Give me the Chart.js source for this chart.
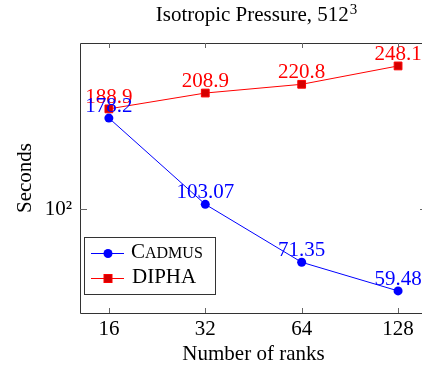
<!DOCTYPE html>
<html><head><meta charset="utf-8">
<script src="https://cdn.jsdelivr.net/npm/chart.js@4"></script>
<style>html,body{margin:0;padding:0;overflow:hidden;background:#fff;width:422px;height:369px}</style>
</head><body>
<canvas id="c" width="440" height="369" style="width:440px;height:369px;display:block"></canvas>
<script>
const ranks = [16, 32, 64, 128];
const rankLabels = ['16', '32', '64', '128'];
const cadmus = [178.2, 103.07, 71.35, 59.48];
const cadmusLabels = ['178.2', '103.07', '71.35', '59.48'];
const dipha = [188.9, 208.9, 220.8, 248.1];
const diphaLabels = ['188.9', '208.9', '220.8', '248.1'];
const yTicks = [100];
const yTickLabels = ['10²'];
const titleMain = 'Isotropic Pressure, 512';
const titleSup = '3';

const FONT = "'Liberation Serif', 'Times New Roman', serif";
const FS = 21;
const BLUE = '#0000ff', RED = '#ff0000', RED_FILL = '#d40000';

const framePlugin = {
  id: 'frame',
  afterDatasetsDraw(chart) {
    const {ctx, chartArea: a, scales: {x, y}} = chart;
    ctx.save();
    // title with superscript, centred over the plot area
    ctx.fillStyle = '#000';
    ctx.textBaseline = 'alphabetic';
    ctx.textAlign = 'left';
    ctx.font = FS + 'px ' + FONT;
    const wMain = ctx.measureText(titleMain).width;
    ctx.font = Math.round(FS * 0.72) + 'px ' + FONT;
    const wSup = ctx.measureText(titleSup).width;
    const cx = (a.left + a.right) / 2 + 3;
    const tx0 = cx - (wMain + wSup + 1) / 2;
    ctx.font = FS + 'px ' + FONT;
    ctx.fillText(titleMain, tx0, 21);
    ctx.font = Math.round(FS * 0.72) + 'px ' + FONT;
    ctx.fillText(titleSup, tx0 + wMain + 1, 14);

    // data labels
    ctx.font = FS + 'px ' + FONT;
    ctx.textAlign = 'center';
    const sets = [[1, diphaLabels, RED], [0, cadmusLabels, BLUE]];
    sets.forEach(([di, labels, col]) => {
      const meta = chart.getDatasetMeta(di);
      ctx.fillStyle = col;
      meta.data.forEach((pt, i) => ctx.fillText(labels[i], pt.x, pt.y - 6));
    });
    // frame
    ctx.strokeStyle = '#333';
    ctx.lineWidth = 1;
    ctx.beginPath();
    ctx.rect(Math.round(a.left) + 0.5, Math.round(a.top) + 0.5, a.right - a.left, a.bottom - a.top);
    ctx.stroke();
    // ticks
    ctx.strokeStyle = '#666';
    ctx.beginPath();
    ranks.forEach(v => {
      const px = Math.round(x.getPixelForValue(v)) + 0.5;
      ctx.moveTo(px, a.bottom); ctx.lineTo(px, a.bottom - 5);
      ctx.moveTo(px, a.top); ctx.lineTo(px, a.top + 5);
    });
    yTicks.forEach(v => {
      const py = Math.round(y.getPixelForValue(v)) + 0.5;
      ctx.moveTo(a.left, py); ctx.lineTo(a.left + 7, py);
      ctx.moveTo(a.right, py); ctx.lineTo(a.right - 7, py);
    });
    ctx.stroke();
    // legend
    const L = 84.5, T = 237.5, W = 131, H = 57;
    ctx.fillStyle = '#fff';
    ctx.fillRect(L, T, W, H);
    ctx.strokeStyle = '#333';
    ctx.strokeRect(L, T, W, H);
    const entries = [
      {y: 253, col: BLUE, fill: BLUE, shape: 'circle'},
      {y: 278, col: RED, fill: RED_FILL, shape: 'rect'}
    ];
    entries.forEach(e => {
      ctx.strokeStyle = e.col; ctx.lineWidth = 1;
      ctx.beginPath(); ctx.moveTo(91, e.y + 0.5); ctx.lineTo(124, e.y + 0.5); ctx.stroke();
      ctx.fillStyle = e.fill;
      if (e.shape === 'circle') {
        ctx.beginPath(); ctx.arc(108, e.y + 0.5, 4.5, 0, Math.PI * 2); ctx.fill();
      } else {
        ctx.fillRect(104, e.y - 3.5, 8, 8);
        ctx.strokeStyle = e.col; ctx.strokeRect(104, e.y - 3.5, 8, 8);
      }
    });
    ctx.fillStyle = '#000';
    ctx.textAlign = 'left';
    // Cadmus in small caps
    let tx = 131;
    ctx.font = FS + 'px ' + FONT;
    ctx.fillText('C', tx, 258);
    tx += ctx.measureText('C').width;
    ctx.font = Math.round(FS * 0.78) + 'px ' + FONT;
    ctx.fillText('ADMUS', tx, 258);
    ctx.font = FS + 'px ' + FONT;
    ctx.fillText('DIPHA', 132, 283);
    ctx.restore();
  }
};

new Chart(document.getElementById('c'), {
  type: 'line',
  data: {
    datasets: [
      {
        label: 'Cadmus',
        data: ranks.map((r, i) => ({x: r, y: cadmus[i]})),
        borderColor: BLUE, backgroundColor: BLUE,
        borderWidth: 1, pointStyle: 'circle', pointRadius: 4.5,
        pointBorderWidth: 0, tension: 0, clip: false
      },
      {
        label: 'DIPHA',
        data: ranks.map((r, i) => ({x: r, y: dipha[i]})),
        borderColor: RED, backgroundColor: RED_FILL,
        borderWidth: 1, pointStyle: 'rect', pointRadius: 5.5,
        pointBorderWidth: 1, pointBorderColor: RED, tension: 0, clip: false
      }
    ]
  },
  options: {
    responsive: false,
    animation: false,
    devicePixelRatio: 1,
    layout: {padding: {left: 0, right: 13, top: 43, bottom: 0}},
    plugins: {
      legend: {display: false},
      tooltip: {enabled: false},
      title: {display: false}
    },
    scales: {
      x: {
        type: 'logarithmic',
        position: 'bottom',
        min: 13.0, max: 157.6,
        grid: {display: false, drawTicks: false},
        border: {display: false},
        afterBuildTicks: s => { s.ticks = ranks.map(v => ({value: v})); },
        afterFit: s => { s.height = 56; },
        ticks: {
          autoSkip: false, maxRotation: 0, color: '#000', padding: 4,
          font: {family: FONT, size: FS},
          callback: v => rankLabels[ranks.indexOf(v)]
        },
        title: {
          display: true, text: 'Number of ranks', color: '#000',
          font: {family: FONT, size: FS, lineHeight: 1.2},
          padding: {top: 0, bottom: 2}
        }
      },
      y: {
        type: 'logarithmic',
        position: 'left',
        min: 51.7, max: 287,
        grid: {display: false, drawTicks: false},
        border: {display: false},
        afterBuildTicks: s => { s.ticks = yTicks.map(v => ({value: v})); },
        afterFit: s => { s.width = 80; },
        ticks: {
          color: '#000', padding: 8,
          font: {family: FONT, size: FS},
          callback: v => yTickLabels[yTicks.indexOf(v)]
        },
        title: {
          display: true, text: 'Seconds', color: '#000',
          font: {family: FONT, size: FS, lineHeight: 1.2},
          padding: {top: 13, bottom: 0}
        }
      }
    }
  },
  plugins: [framePlugin]
});
</script>
</body></html>
